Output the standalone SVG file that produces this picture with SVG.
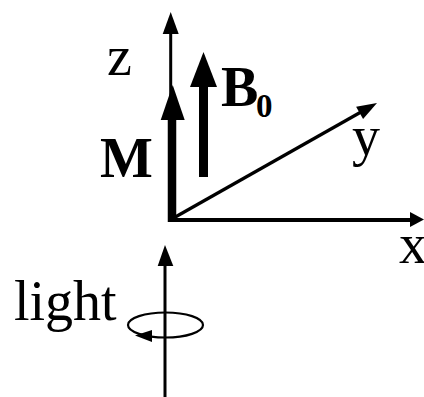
<svg xmlns="http://www.w3.org/2000/svg" width="424" height="397" viewBox="0 0 424 397">
<style>
.t{font-family:"Liberation Serif","Times New Roman",serif;font-size:56px;fill:#000}
.b{font-weight:bold}
.ln{stroke:#000;fill:none;stroke-linecap:butt}
.hd{fill:#000;stroke:none}
</style>
<rect width="424" height="397" fill="#fff"/>
<g id="connectors">
<g id="z-axis"><line class="ln" x1="170.7" y1="221" x2="170.7" y2="32" stroke-width="3"/><polygon class="hd" points="170.7,12 162.7,34 178.7,34"/></g>
<g id="x-axis"><line class="ln" x1="168" y1="220" x2="412" y2="220" stroke-width="4"/><polygon class="hd" points="424,219.5 410,212 410,227"/></g>
<g id="y-axis"><line class="ln" x1="170" y1="220" x2="361" y2="112" stroke-width="3.2"/><polygon class="hd" points="377,103 363.1,119 356.1,106.8"/></g>
<g id="M-arrow"><line class="ln" x1="172" y1="222" x2="172" y2="115" stroke-width="8.5"/><polygon class="hd" points="172.7,85 160.7,120 184.7,120"/></g>
<g id="B0-arrow"><line class="ln" x1="203.5" y1="177" x2="203.5" y2="82" stroke-width="9"/><polygon class="hd" points="203.5,52 190,87 217,87"/></g>
<g id="light-arrow"><line class="ln" x1="165" y1="397" x2="165" y2="262" stroke-width="3"/><polygon class="hd" points="165,245 157.7,266 173.3,266"/></g>
<g id="rotation"><ellipse class="ln" cx="165.5" cy="325" rx="37.5" ry="12.5" stroke-width="2.2"/><polygon class="hd" points="135,335.5 152,330 152,342"/></g>
</g>
<g id="label-z"><text class="t" x="107" y="75">z</text></g>
<g id="label-M"><text class="t b" x="100" y="177">M</text></g>
<g id="label-B0"><text class="t b" x="221" y="106">B</text><text class="t b" x="256" y="117" style="font-size:33px">0</text></g>
<g id="label-y"><text class="t" x="352" y="155">y</text></g>
<g id="label-x"><text class="t" x="399" y="263">x</text></g>
<g id="label-light"><text class="t" x="14" y="320">light</text></g>
</svg>
